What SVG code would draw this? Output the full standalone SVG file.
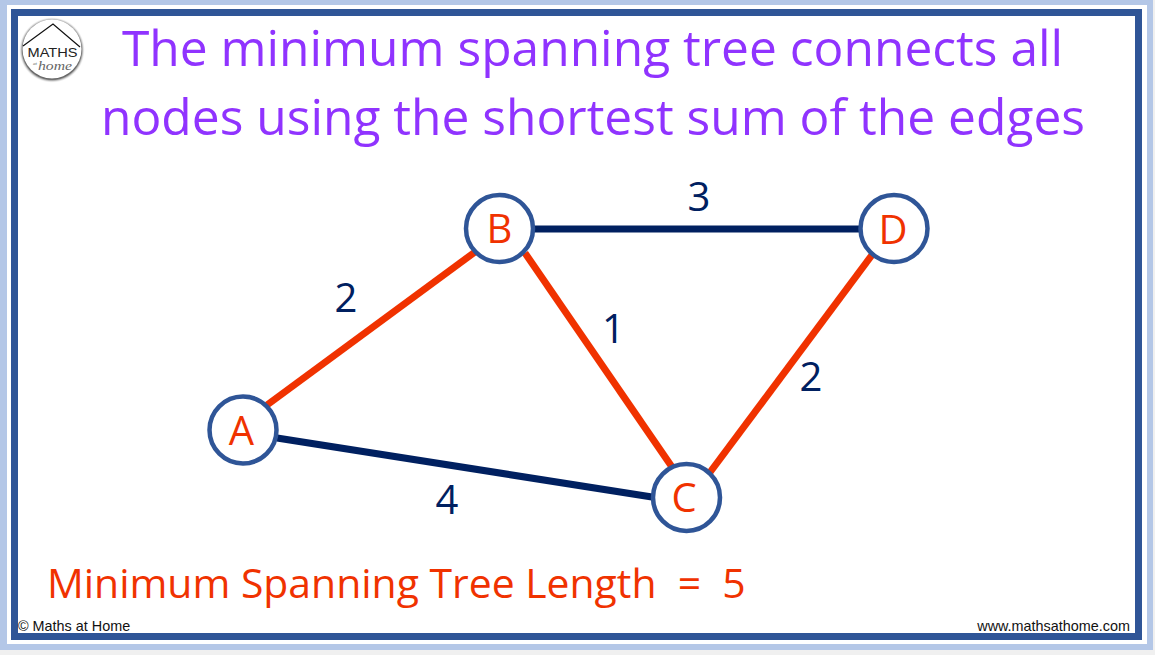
<svg xmlns="http://www.w3.org/2000/svg" width="1155" height="655" viewBox="0 0 1155 655">
<style>
.title{font:49.7px "Open Sans","Noto Sans",sans-serif;fill:#9033ff;text-anchor:middle}
.node circle{fill:#fff;stroke:#2f5597;stroke-width:4.5}
.node text{font:40px "Open Sans","Noto Sans",sans-serif;fill:#f03200;text-anchor:middle}
.w{font:40px "Open Sans","Noto Sans",sans-serif;fill:#002060;text-anchor:middle}
.e{stroke-width:7;fill:none}
.navy{stroke:#002060}
.red{stroke:#f03200}
.foot{font:14.4px "Liberation Sans",Arial,sans-serif;fill:#111}
</style>
<defs><radialGradient id="sh"><stop offset="0.82" stop-color="#333"/><stop offset="0.9" stop-color="#777"/><stop offset="1" stop-color="#fff" stop-opacity="0"/></radialGradient></defs>
<rect width="1155" height="655" fill="#f0f0f0"/>
<rect x="0" y="0" width="1153" height="650" fill="#b4c7e7"/>
<rect x="7" y="5" width="1140" height="639" fill="#fff"/>
<rect x="11" y="9" width="1131" height="631" fill="#2f5597"/>
<rect x="18" y="16" width="1117" height="617" fill="#fff"/>
<g id="logo">
<circle cx="52" cy="50" r="33" fill="url(#sh)"/>
<circle cx="52" cy="49" r="29.5" fill="#fff"/>
<path d="M23 46 L53 24 L80 47" fill="none" stroke="#111" stroke-width="1.2"/>
<text x="52.500" y="56.500" font-family="Liberation Sans,sans-serif" font-size="13.500" text-anchor="middle" fill="#222" textLength="50" lengthAdjust="spacingAndGlyphs">MATHS</text>
<text x="35" y="64.500" font-family="Liberation Serif,serif" font-style="italic" font-size="5" text-anchor="middle" fill="#666">at</text>
<text x="55" y="70" font-family="Liberation Serif,serif" font-style="italic" font-size="13" text-anchor="middle" fill="#666" textLength="34" lengthAdjust="spacingAndGlyphs">home</text>
</g>
<g id="title">
<text class="title" x="592.500" y="66">The minimum spanning tree connects all</text>
<text class="title" x="593" y="135">nodes using the shortest sum of the edges</text>
</g>
<g id="connectors">
<line class="e red" x1="267" y1="405" x2="475" y2="252"/>
<line class="e navy" x1="499" y1="229" x2="894" y2="229"/>
<line class="e red" x1="525" y1="253" x2="672" y2="467"/>
<line class="e red" x1="872" y1="255" x2="708" y2="475"/>
<line class="e navy" x1="277" y1="438" x2="652" y2="497"/>
</g>
<g id="node-A" class="node"><circle cx="243" cy="430" r="33.5"/><text x="241.500" y="445">A</text></g>
<g id="node-B" class="node"><circle cx="499.500" cy="228.500" r="33.500"/><text x="499.500" y="243">B</text></g>
<g id="node-C" class="node"><circle cx="686.500" cy="497.500" r="33.500"/><text x="684" y="512">C</text></g>
<g id="node-D" class="node"><circle cx="894" cy="228.500" r="33.500"/><text x="893" y="244">D</text></g>
<g id="weights">
<text class="w" x="346" y="312">2</text>
<text class="w" x="699" y="211">3</text>
<text class="w" x="613.500" y="343">1</text>
<text class="w" x="811" y="391">2</text>
<text class="w" x="447" y="514">4</text>
</g>
<text id="length" x="47" y="598" font-family="Open Sans,Noto Sans,sans-serif" font-size="40.900" fill="#f03200" xml:space="preserve">Minimum Spanning Tree Length  =  5</text>
<text class="foot" x="18" y="631">© Maths at Home</text>
<text class="foot" x="1130" y="631" text-anchor="end">www.mathsathome.com</text>
</svg>
